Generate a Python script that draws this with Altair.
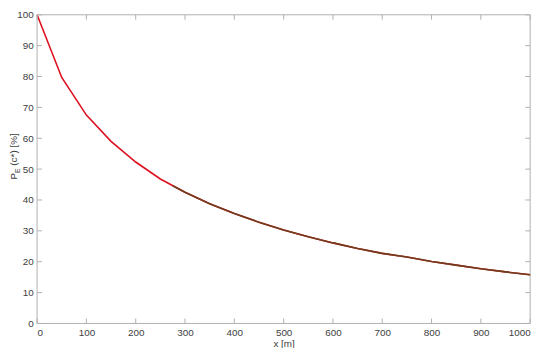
import altair as alt
import pandas as pd

# measured curve (sampled every 50 m)
x_red = [0, 50, 100, 150, 200, 250, 300, 350, 400, 450, 500, 550, 600, 650, 700, 750, 800, 850, 900, 950, 1000]
y_red = [100, 79.7, 67.5, 59.0, 52.3, 46.8, 42.5, 38.8, 35.6, 32.8, 30.3, 28.1, 26.1, 24.3, 22.7, 21.5, 20.1, 18.9, 17.7, 16.7, 15.8]

# smooth curve overlaid on the tail
x_brown = [275, 300, 350, 400, 450, 500, 550, 600, 650, 700, 750, 800, 850, 900, 950, 1000]
y_brown = [44.6, 42.5, 38.8, 35.6, 32.8, 30.3, 28.1, 26.1, 24.3, 22.7, 21.5, 20.1, 18.9, 17.7, 16.7, 15.8]

x_ticks = [0, 100, 200, 300, 400, 500, 600, 700, 800, 900, 1000]
y_ticks = [0, 10, 20, 30, 40, 50, 60, 70, 80, 90, 100]

W, H = 500, 313
FONT = "Liberation Sans"
AX = "#404040"
BOX = "#b0b0b0"

red_df = pd.DataFrame({"x": x_red, "y": y_red})
brown_df = pd.DataFrame({"x": x_brown, "y": y_brown})
xt_df = pd.DataFrame({"x": x_ticks})
yt_df = pd.DataFrame({"y": y_ticks})
one = pd.DataFrame({"a": [0]})

xs = alt.Scale(domain=[0, 1000], nice=False)
ys = alt.Scale(domain=[0, 100], nice=False)

xaxis = alt.Axis(values=x_ticks, format="d", title="x [m]", grid=False, ticks=False, domain=False,
                 labelOverlap=False, labelFont=FONT, labelFontSize=10, labelColor=AX, labelPadding=4,
                 titleFont=FONT, titleFontSize=10, titleColor=AX, titleFontWeight="normal", titlePadding=1)
yaxis = alt.Axis(values=y_ticks, format="d", title=None, grid=False, ticks=False, domain=False,
                 labelOverlap=False, labelFont=FONT, labelFontSize=10, labelColor=AX, labelPadding=4)

X = alt.X("x:Q", scale=xs, axis=xaxis, title="x [m]")
Y = alt.Y("y:Q", scale=ys, axis=yaxis, title=None)

base_red = alt.Chart(red_df).mark_line(color="#dd1020", strokeWidth=1.6).encode(x=X, y=Y)
brown = alt.Chart(brown_df).mark_line(color="#6e3d1c", strokeWidth=1.6).encode(x=X, y=Y)

frame = alt.Chart(one).mark_rect(fill=None, stroke=BOX, strokeWidth=1).encode(
    x=alt.value(0), x2=alt.value(W), y=alt.value(0), y2=alt.value(H)
)

tl = 5
xt_bottom = alt.Chart(xt_df).mark_rule(color=BOX, strokeWidth=1).encode(
    x=X, y=alt.value(H), y2=alt.value(H - tl))
xt_top = alt.Chart(xt_df).mark_rule(color=BOX, strokeWidth=1).encode(
    x=X, y=alt.value(0), y2=alt.value(tl))
yt_left = alt.Chart(yt_df).mark_rule(color=BOX, strokeWidth=1).encode(
    y=Y, x=alt.value(0), x2=alt.value(tl))
yt_right = alt.Chart(yt_df).mark_rule(color=BOX, strokeWidth=1).encode(
    y=Y, x=alt.value(W), x2=alt.value(W - tl))

# y-axis title with subscript
t_p = alt.Chart(one).mark_text(text="P", angle=270, font=FONT, fontSize=10, color=AX,
                               align="left", baseline="middle").encode(
    x=alt.value(-23), y=alt.value(167))
t_e = alt.Chart(one).mark_text(text="E", angle=270, font=FONT, fontSize=7, color=AX,
                               align="left", baseline="middle").encode(
    x=alt.value(-19), y=alt.value(160.5))
t_rest = alt.Chart(one).mark_text(text="(c*) [%]", angle=270, font=FONT, fontSize=10, color=AX,
                                  align="left", baseline="middle").encode(
    x=alt.value(-23), y=alt.value(153))

chart = alt.layer(
    base_red, frame, xt_bottom, xt_top, yt_left, yt_right, brown, t_p, t_e, t_rest
).properties(
    width=W, height=H,
    autosize=alt.AutoSizeParams(type="none"),
    padding={"left": 29.5, "top": 4.5, "right": 12, "bottom": 22},
).configure_view(stroke=None)

chart.save("out.html", embed_options={"renderer": "svg", "actions": False})
